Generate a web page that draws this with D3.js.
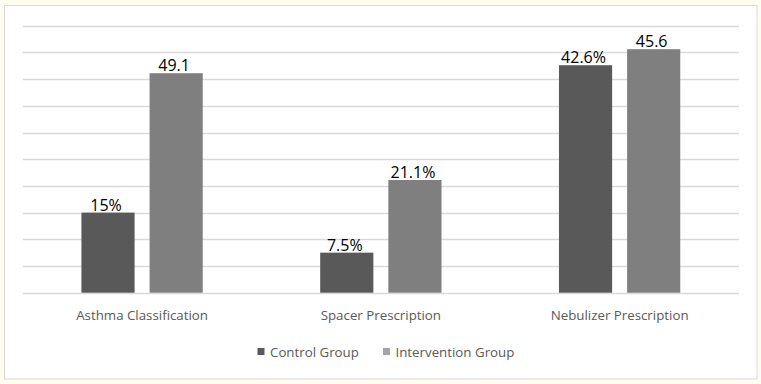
<!DOCTYPE html>
<html>
<head>
<meta charset="utf-8">
<script src="https://cdn.jsdelivr.net/npm/d3@7"></script>
<style>
  html, body { margin: 0; padding: 0; background: #fffdf0; }
  svg { display: block; }
</style>
</head>
<body>
<svg id="chart" width="761" height="384"></svg>
<script>
const categories = ["Asthma Classification", "Spacer Prescription", "Nebulizer Prescription"];
const seriesNames = ["Control Group", "Intervention Group"];
const controlValues = [15, 7.5, 42.6];
const interventionValues = [41.1, 21.1, 45.6];
const controlLabels = ["15%", "7.5%", "42.6%"];
const interventionLabels = ["49.1", "21.1%", "45.6"];
const yTicks = [0, 5, 10, 15, 20, 25, 30, 35, 40, 45, 50];
const colors = ["#595959", "#7f7f7f"];
const legendColors = ["#595959", "#a5a5a5"];

const svg = d3.select("#chart");
const font = "'Open Sans', 'Noto Sans', sans-serif";

// chart area background & border
svg.append("rect").attr("x", 4.5).attr("y", 5.5).attr("width", 752.5).attr("height", 373.5)
  .attr("fill", "#ffffff").attr("stroke", "#d9d9d9").attr("stroke-width", 1);

const plotLeft = 22.7, plotRight = 739, plotTop = 25.7, plotBottom = 292.7;

const y = d3.scaleLinear().domain([0, 50]).range([plotBottom, plotTop]);
const x0 = d3.scaleBand().domain(categories).range([plotLeft, plotRight]).padding(0);
const groupWidth = 121.3;
const x1 = d3.scaleBand().domain(seriesNames).range([0, groupWidth]).paddingInner(0.22).paddingOuter(0);

// gridlines
svg.append("g").selectAll("line").data(yTicks).join("line")
  .attr("x1", plotLeft).attr("x2", plotRight)
  .attr("y1", d => Math.round(y(d)) + 0.5).attr("y2", d => Math.round(y(d)) + 0.5)
  .attr("stroke", "#d9d9d9").attr("stroke-width", 1.3);

const rows = categories.map((c, i) => ({
  category: c,
  values: [
    { series: seriesNames[0], value: controlValues[i], label: controlLabels[i], color: colors[0] },
    { series: seriesNames[1], value: interventionValues[i], label: interventionLabels[i], color: colors[1] }
  ]
}));

const groups = svg.append("g").selectAll("g").data(rows).join("g")
  .attr("transform", d => `translate(${x0(d.category) + (x0.bandwidth() - groupWidth) / 2},0)`);

groups.selectAll("rect").data(d => d.values).join("rect")
  .attr("x", d => x1(d.series))
  .attr("y", d => y(d.value))
  .attr("width", x1.bandwidth())
  .attr("height", d => y(0) - y(d.value))
  .attr("fill", d => d.color);

groups.selectAll("text").data(d => d.values).join("text")
  .attr("x", d => x1(d.series) + x1.bandwidth() / 2 - 2)
  .attr("y", d => y(d.value) - 2)
  .attr("text-anchor", "middle")
  .attr("font-family", font)
  .attr("font-size", 16)
  .attr("fill", "#000")
  .text(d => d.label);

// x axis category labels
const xAxis = d3.axisBottom(x0).tickSize(0).tickPadding(0);
const xg = svg.append("g").attr("transform", `translate(0,${plotBottom})`).call(xAxis);
xg.select(".domain").remove();
xg.selectAll("text")
  .attr("dy", 0).attr("y", 27)
  .attr("font-family", font).attr("font-size", 13.3).attr("fill", "#595959");

// legend
const legendItems = [
  { name: seriesNames[0], color: legendColors[0], x: 257.5 },
  { name: seriesNames[1], color: legendColors[1], x: 383 }
];
const lg = svg.append("g").selectAll("g").data(legendItems).join("g")
  .attr("transform", d => `translate(${d.x},348)`);
lg.append("rect").attr("width", 7).attr("height", 7).attr("fill", d => d.color);
lg.append("text").attr("x", 12.5).attr("y", 8.5)
  .attr("font-family", font).attr("font-size", 13.3).attr("fill", "#595959")
  .text(d => d.name);
</script>
</body>
</html>
